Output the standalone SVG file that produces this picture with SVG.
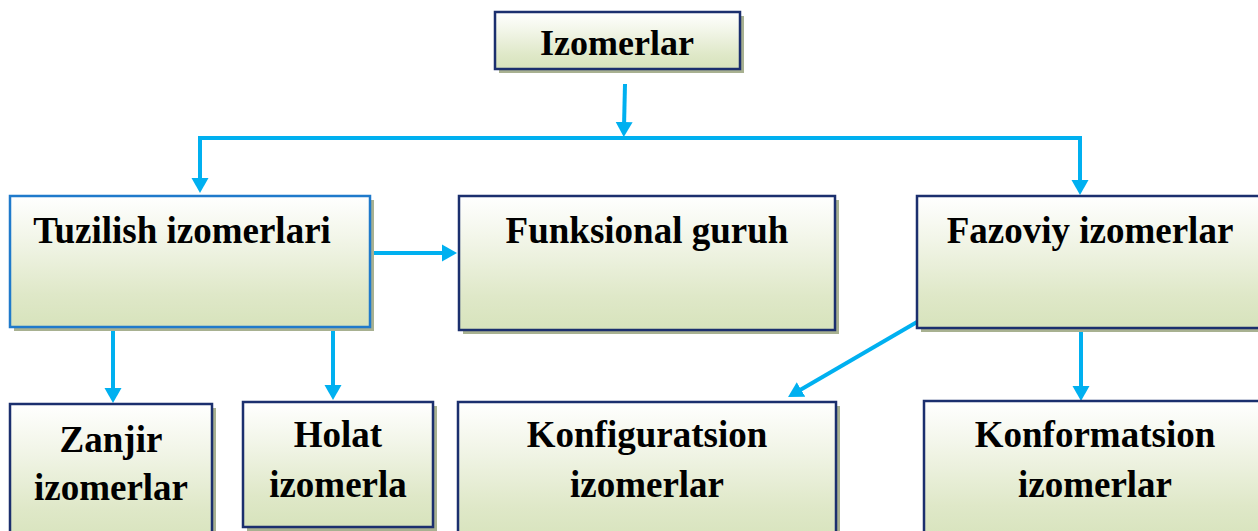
<svg xmlns="http://www.w3.org/2000/svg" width="1258" height="531" viewBox="0 0 1258 531">
<defs>
<linearGradient id="g" x1="0" y1="0" x2="0" y2="1">
<stop offset="0" stop-color="#ffffff"/>
<stop offset="0.3" stop-color="#f3f6ea"/>
<stop offset="0.75" stop-color="#dfe8c8"/>
<stop offset="1" stop-color="#d7e3bc"/>
</linearGradient>
<marker id="ah" markerUnits="userSpaceOnUse" markerWidth="16" markerHeight="18" refX="5" refY="8.5" orient="auto" viewBox="0 0 16 17">
<path d="M0,0 L15,8.5 L0,17 z" fill="#00b0f0"/>
</marker>
<style>
.sh{fill:#a8b191}
.bx{fill:url(#g);stroke:#1b2f6e;stroke-width:2.5}
.bx2{fill:url(#g);stroke:#1f7acb;stroke-width:2.5}
.t{font-family:"Liberation Serif","Times New Roman",serif;font-weight:bold;font-size:37px;fill:#000;text-anchor:middle}
.c{fill:none;stroke:#00b0f0;stroke-width:4;marker-end:url(#ah)}
</style>
</defs>
<rect width="1258" height="531" fill="#fff"/>
<g id="connectors">
<path class="c" d="M625,84 L624,127"/>
<path class="c" d="M624,138 H200 V183"/>
<path class="c" d="M624,138 H1080 V185"/>
<path class="c" d="M370,253 H447"/>
<path class="c" d="M113,327 V393"/>
<path class="c" d="M333,327 V390"/>
<path class="c" d="M917,322 L796.7,392"/>
<path class="c" d="M1081,329 V391"/>
</g>
<g id="izomerlar">
<rect class="sh" x="499" y="16" width="245" height="57"/>
<rect class="bx" x="495" y="12" width="245" height="57"/>
<text class="t" x="617" y="55" style="font-size:36px">Izomerlar</text>
</g>
<g id="tuzilish">
<rect class="sh" x="14" y="200" width="360" height="131"/>
<rect class="bx2" x="10" y="196" width="360" height="131"/>
<text class="t" x="182" y="243">Tuzilish izomerlari</text>
</g>
<g id="funksional">
<rect class="sh" x="463" y="200" width="376" height="134"/>
<rect class="bx" x="459" y="196" width="376" height="134"/>
<text class="t" x="647" y="243">Funksional guruh</text>
</g>
<g id="fazoviy">
<rect class="sh" x="921" y="200" width="345" height="132"/>
<rect class="bx" x="917" y="196" width="345" height="132"/>
<text class="t" x="1090" y="243">Fazoviy izomerlar</text>
</g>
<g id="zanjir">
<rect class="sh" x="14" y="408" width="202" height="140"/>
<rect class="bx" x="10" y="404" width="202" height="140"/>
<text class="t" x="111" y="452">Zanjir</text>
<text class="t" x="111" y="500">izomerlar</text>
</g>
<g id="holat">
<rect class="sh" x="247" y="406" width="190" height="125"/>
<rect class="bx" x="243" y="402" width="190" height="125"/>
<text class="t" x="338" y="447">Holat</text>
<text class="t" x="338" y="497">izomerla</text>
</g>
<g id="konfiguratsion">
<rect class="sh" x="462" y="406" width="378" height="140"/>
<rect class="bx" x="458" y="402" width="378" height="140"/>
<text class="t" x="647" y="447">Konfiguratsion</text>
<text class="t" x="647" y="497">izomerlar</text>
</g>
<g id="konformatsion">
<rect class="sh" x="928" y="405" width="345" height="140"/>
<rect class="bx" x="924" y="401" width="345" height="140"/>
<text class="t" x="1095" y="447">Konformatsion</text>
<text class="t" x="1095" y="497">izomerlar</text>
</g>
</svg>
